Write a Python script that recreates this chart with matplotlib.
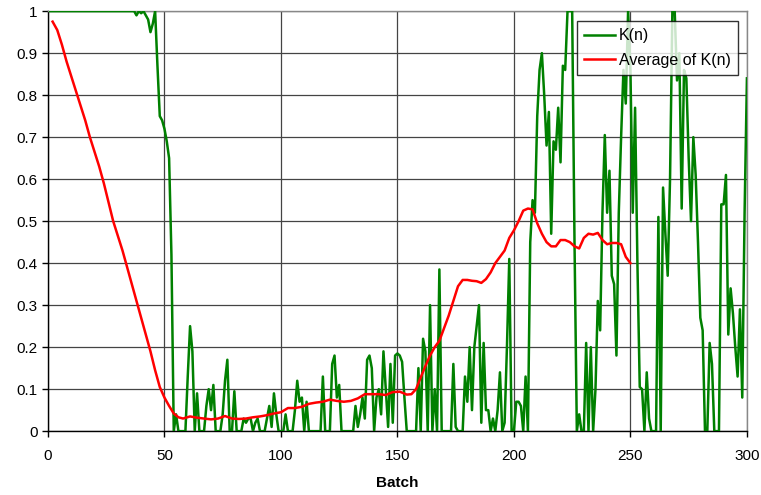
import matplotlib
matplotlib.use('Agg')
from matplotlib import pyplot as plt

plt.rcParams['font.family'] = ['Liberation Sans', 'DejaVu Sans']

# K(n) per batch, batches 1..300
k_values = [
    1.0, 1.0, 1.0, 1.0, 1.0, 1.0, 1.0, 1.0, 1.0, 1.0,
    1.0, 1.0, 1.0, 1.0, 1.0, 1.0, 1.0, 1.0, 1.0, 1.0,
    1.0, 1.0, 1.0, 1.0, 1.0, 1.0, 1.0, 1.0, 1.0, 1.0,
    1.0, 1.0, 1.0, 1.0, 1.0, 1.0, 1.0, 0.99, 1.0, 0.995,
    1.0, 0.99, 0.98, 0.95, 0.97, 1.0, 0.87, 0.75, 0.74, 0.72,
    0.69, 0.65, 0.42, 0.0, 0.04, 0.0, 0.0, 0.0, 0.0, 0.13,
    0.25, 0.19, 0.0, 0.09, 0.0, 0.0, 0.0, 0.06, 0.1, 0.05,
    0.11, 0.0, 0.0, 0.0, 0.04, 0.12, 0.17, 0.0, 0.0, 0.095,
    0.0, 0.0, 0.0, 0.03, 0.02, 0.03, 0.03, 0.0, 0.02, 0.03,
    0.0, 0.0, 0.0, 0.03, 0.06, 0.01, 0.09, 0.04, 0.0, 0.0,
    0.0, 0.04, 0.0, 0.0, 0.0, 0.05, 0.12, 0.07, 0.08, 0.0,
    0.07, 0.0, 0.0, 0.0, 0.0, 0.0, 0.0, 0.13, 0.0, 0.0,
    0.0, 0.16, 0.18, 0.08, 0.11, 0.0, 0.0, 0.0, 0.0, 0.0,
    0.0, 0.06, 0.01, 0.04, 0.08, 0.03, 0.17, 0.18, 0.15, 0.0,
    0.08, 0.1, 0.04, 0.19, 0.1, 0.01, 0.16, 0.02, 0.18, 0.185,
    0.18, 0.165, 0.08, 0.0, 0.0, 0.0, 0.0, 0.0, 0.15, 0.0,
    0.22, 0.19, 0.0, 0.3, 0.0, 0.1, 0.0, 0.385, 0.0, 0.0,
    0.0, 0.0, 0.0, 0.16, 0.01, 0.0, 0.0, 0.0, 0.13, 0.07,
    0.2, 0.05, 0.2, 0.25, 0.3, 0.02, 0.21, 0.05, 0.05, 0.0,
    0.03, 0.0, 0.05, 0.14, 0.0, 0.02, 0.2, 0.41, 0.0, 0.0,
    0.07, 0.07, 0.06, 0.0, 0.13, 0.0, 0.45, 0.55, 0.52, 0.75,
    0.86, 0.9, 0.8, 0.68, 0.76, 0.47, 0.69, 0.67, 0.77, 0.64,
    0.87, 0.86, 1.0, 1.0, 1.0, 0.45, 0.0, 0.04, 0.0, 0.0,
    0.21, 0.0, 0.2, 0.0, 0.1, 0.31, 0.24, 0.52, 0.705, 0.52,
    0.62, 0.37, 0.35, 0.18, 0.52, 0.7, 0.86, 0.78, 1.0, 0.86,
    0.52, 0.77, 0.4, 0.105, 0.1, 0.0, 0.14, 0.03, 0.0, 0.0,
    0.0, 0.51, 0.0, 0.58, 0.47, 0.37, 0.6, 1.0, 1.0, 0.835,
    0.9, 0.53, 0.86, 0.84, 0.65, 0.5, 0.7, 0.61, 0.45, 0.27,
    0.24, 0.0, 0.0, 0.21, 0.16, 0.0, 0.0, 0.0, 0.54, 0.54,
    0.61, 0.23, 0.34, 0.28, 0.2, 0.13, 0.29, 0.08, 0.52, 0.84,
]
batches = list(range(1, len(k_values) + 1))

# Average of K(n), read at selected batches
avg_batches = [2, 4, 6, 8, 10, 12, 14, 16, 18, 20, 22, 24, 26, 28, 30, 32, 34, 36, 38, 40,
               42, 44, 46, 48, 50, 52, 54, 56, 58, 61, 64, 67, 70, 73, 76, 79, 82, 85, 88, 91,
               94, 97, 100, 103, 106, 109, 112, 115, 118, 121, 124, 127, 130, 133, 136, 139, 142, 145, 148, 151,
               154, 156, 158, 160, 162, 164, 166, 168, 170, 172, 174, 176, 178, 180, 182, 184, 186, 188, 190, 192,
               194, 196, 198, 200, 202, 204, 206, 208, 210, 212, 214, 216, 218, 220, 222, 224, 226, 228, 230, 232,
               234, 236, 238, 240, 242, 244, 246, 248, 250]
avg_values = [0.975, 0.955, 0.92, 0.88, 0.845, 0.81, 0.775, 0.74, 0.7, 0.665, 0.63, 0.59, 0.545, 0.5, 0.465, 0.43, 0.39, 0.35, 0.31, 0.27,
              0.23, 0.19, 0.145, 0.105, 0.08, 0.06, 0.042, 0.033, 0.03, 0.035, 0.032, 0.03, 0.028, 0.03, 0.036, 0.03, 0.029, 0.03, 0.033, 0.035,
              0.038, 0.042, 0.045, 0.055, 0.055, 0.058, 0.065, 0.068, 0.07, 0.075, 0.072, 0.07, 0.072, 0.078, 0.088, 0.088, 0.088, 0.086, 0.093, 0.094,
              0.087, 0.088, 0.1, 0.128, 0.155, 0.18, 0.2, 0.215, 0.245, 0.275, 0.31, 0.345, 0.36, 0.36, 0.358, 0.357, 0.353, 0.362, 0.378, 0.4,
              0.415, 0.43, 0.46, 0.478, 0.5, 0.525, 0.53, 0.528, 0.495, 0.47, 0.45, 0.44, 0.44, 0.455, 0.455, 0.45, 0.44, 0.435, 0.46, 0.47,
              0.468, 0.472, 0.455, 0.445, 0.448, 0.448, 0.445, 0.415, 0.4]

x_ticks = [0, 50, 100, 150, 200, 250, 300]
y_ticks = [0, 0.1, 0.2, 0.3, 0.4, 0.5, 0.6, 0.7, 0.8, 0.9, 1]
y_labels = ['0', '0.1', '0.2', '0.3', '0.4', '0.5', '0.6', '0.7', '0.8', '0.9', '1']

fig = plt.figure(figsize=(7.61, 4.95), dpi=100)
ax = fig.add_axes([0.063, 0.129, 0.9185, 0.8485])

ax.plot(batches, k_values, color='#008000', lw=1.8, label='K(n)', zorder=3)
ax.plot(avg_batches, avg_values, color='#ff0000', lw=1.8, label='Average of K(n)', zorder=4)

ax.set_xlim(0, 300)
ax.set_ylim(0, 1)
ax.set_xticks(x_ticks)
ax.set_yticks(y_ticks)
ax.set_yticklabels(y_labels)
ax.tick_params(direction='out', length=4, width=1, labelsize=11, colors='black')
ax.tick_params(axis='x', pad=9)
ax.grid(True, color='#444444', lw=0.9, zorder=0)
ax.set_axisbelow(True)

for side in ['left', 'bottom']:
    ax.spines[side].set_color('black')
    ax.spines[side].set_linewidth(1)
for side in ['top', 'right']:
    ax.spines[side].set_color('#888888')
    ax.spines[side].set_linewidth(1)

ax.set_xlabel('Batch', fontsize=11, fontweight='bold', labelpad=9)

leg = ax.legend(loc='upper right', bbox_to_anchor=(0.987, 0.976), fontsize=11.5,
                frameon=True, fancybox=False, handlelength=1.9, handletextpad=0.25,
                borderpad=0.45, labelspacing=0.6, borderaxespad=0)
leg.get_frame().set_edgecolor('black')
leg.get_frame().set_linewidth(1)
leg.set_zorder(10)

plt.savefig('out.png', dpi=100)
